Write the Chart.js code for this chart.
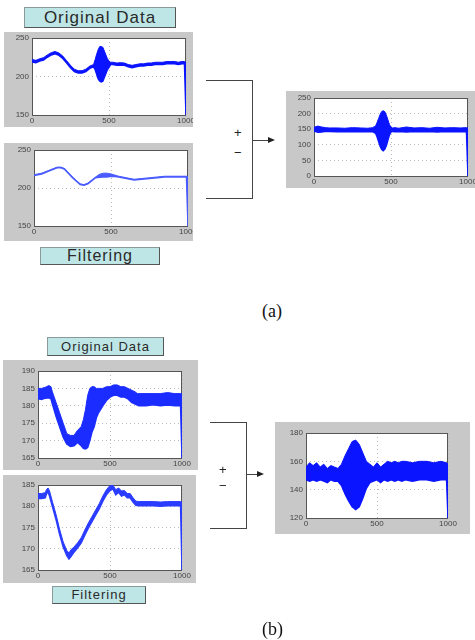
<!DOCTYPE html>
<html>
<head>
<meta charset="utf-8">
<script src="https://cdn.jsdelivr.net/npm/chart.js@4.4.1/dist/chart.umd.min.js"></script>
<style>
  body { margin: 0; background: #fff; width: 475px; height: 640px; position: relative; overflow: hidden; font-family: "Liberation Sans", Arial, sans-serif; }
  canvas { position: absolute; background: #c8c8c8; }
  .tag { position: absolute; background: #bfe6e6; border: 1px solid #8a9a9a; border-right-color: #555; border-bottom-color: #555; color: #2a2a2a; text-align: center; box-sizing: border-box; letter-spacing: 1px; }
  .ln { position: absolute; background: #444; }
  .sign { position: absolute; font-size: 13px; color: #222; line-height: 1; }
  .cap { position: absolute; font-family: "Liberation Serif", "Times New Roman", serif; font-size: 18px; color: #111; }
</style>
</head>
<body>

<div class="tag" style="left:24px;top:7px;width:152px;height:21px;font-size:17px;line-height:19px;">Original Data</div>
<canvas id="a1" width="189" height="95" style="left:4px;top:32px;"></canvas>
<canvas id="a2" width="189" height="98" style="left:4px;top:143px;"></canvas>
<div class="tag" style="left:40px;top:247px;width:120px;height:18px;font-size:16px;line-height:16px;">Filtering</div>
<canvas id="a3" width="189" height="97" style="left:286px;top:91px;"></canvas>

<div class="ln" style="left:206px;top:80px;width:47px;height:1px;"></div>
<div class="ln" style="left:252px;top:80px;width:1px;height:119px;"></div>
<div class="ln" style="left:206px;top:198px;width:47px;height:1px;"></div>
<div class="ln" style="left:252px;top:140px;width:17px;height:1px;"></div>
<div style="position:absolute;left:268px;top:137px;width:0;height:0;border-top:3.5px solid transparent;border-bottom:3.5px solid transparent;border-left:7px solid #222;"></div>
<div class="sign" style="left:234px;top:126px;">+</div>
<div class="sign" style="left:234px;top:146px;">&minus;</div>
<div class="cap" style="left:262px;top:301px;">(a)</div>

<div class="tag" style="left:47px;top:337px;width:117px;height:19px;font-size:13px;line-height:17px;">Original Data</div>
<canvas id="b1" width="195" height="110" style="left:3px;top:360px;"></canvas>
<canvas id="b2" width="193" height="108" style="left:3px;top:475px;"></canvas>
<div class="tag" style="left:52px;top:586px;width:94px;height:18px;font-size:13px;line-height:16px;">Filtering</div>
<canvas id="b3" width="195" height="112" style="left:275px;top:422px;"></canvas>

<div class="ln" style="left:210px;top:422px;width:37px;height:1px;"></div>
<div class="ln" style="left:246px;top:422px;width:1px;height:107px;"></div>
<div class="ln" style="left:210px;top:528px;width:37px;height:1px;"></div>
<div class="ln" style="left:246px;top:474px;width:12px;height:1px;"></div>
<div style="position:absolute;left:257px;top:471px;width:0;height:0;border-top:3.5px solid transparent;border-bottom:3.5px solid transparent;border-left:7px solid #222;"></div>
<div class="sign" style="left:219px;top:463px;">+</div>
<div class="sign" style="left:219px;top:479px;">&minus;</div>
<div class="cap" style="left:262px;top:619px;">(b)</div>

<script>
// (a) original data: upper / lower edge of the blue trace
const a1X  = [0,25,50,75,100,125,150,175,200,225,250,275,300,325,350,375,400,410,420,430,440,450,460,470,480,490,500,510,525,550,575,600,625,650,675,700,725,750,775,800,825,850,875,900,925,950,975,990,1000];
const a1Hi = [222,221,223,224.5,228,231,232.5,230.5,226.5,220.5,214.5,209.5,207.5,207.5,209.5,213.5,215.5,222,229,235,239,239,238,233,228,223,220,218.5,218.5,217.5,218,217.5,215.5,214.5,215.5,216.5,216.5,217.5,217.5,218.5,218.5,218.5,219.5,219.5,219.5,218.5,219.5,219.5,218];
const a1Lo = [219,218,220,221.5,225,228,229.5,227.5,223.5,217.5,211.5,206.5,204.5,204.5,206.5,210.5,212.5,209,203,197,194,193,194,199,204,209,212,215.5,215.5,214.5,215,214.5,212.5,211.5,212.5,213.5,213.5,214.5,214.5,215.5,215.5,215.5,216.5,216.5,216.5,215.5,216.5,216.5,150];

// (a) filtering
const a2X  = [0,50,100,150,175,200,250,300,325,350,400,425,450,475,500,525,550,600,650,700,750,800,850,900,950,990,1000];
const a2Hi = [217.5,219.5,223.5,227.5,227.5,225.5,214.5,205.5,204.5,206.5,214.5,218,219.5,219.5,218.5,217,215.5,213.5,211.5,212.5,213.5,214.5,215.5,215.5,215.5,215.5,215];
const a2Lo = [216.5,218.5,222.5,226.5,226.5,224.5,213.5,204.5,203.5,205.5,213.5,214,214.5,214.5,215.5,215,214.5,212.5,210.5,211.5,212.5,213.5,214.5,214.5,214.5,214.5,150];

// (a) difference
const a3X  = [0,25,50,75,100,150,200,250,300,350,380,400,410,420,430,440,450,460,470,480,490,500,510,525,550,600,650,700,750,800,850,900,950,990,1000];
const a3Hi = [156,160,157,155,154,154,153,155,154,153,155,160,172,185,198,207,209,206,195,180,165,156,154,155,153,157,154,155,153,156,154,155,154,155,154];
const a3Lo = [144,140,141,143,143,142,143,142,143,142,142,137,125,110,95,85,81,86,98,115,132,141,143,142,143,141,143,142,143,141,143,142,143,142,0];

// (b) original data
const b1X  = [0,25,50,75,90,100,125,150,175,200,225,250,275,300,315,330,345,360,375,390,405,420,450,475,500,525,550,575,600,625,650,675,690,700,750,800,850,900,950,990,1000];
const b1Hi = [185,185,185.3,185.8,185.5,184,181,178,175,172,171.5,171.5,173,174,176,179,183,185,185.5,185.5,185,185,185,185.5,185.5,186,186,185.5,185.5,185,184.5,184,183.5,183.5,183.5,183.5,183.5,183.8,183.5,183.5,183.5];
const b1Lo = [182,181.8,182.2,182.3,182,180.5,177,174,171,169,168.3,168.5,169.5,168.5,167.8,167.6,168,170,172.5,174,176.5,178,180,181.5,182.5,183,183,182.5,182.5,182,181,180.5,180.2,180,180,180.3,180,180.2,180,180,165];

// (b) filtering
const b2X  = [0,25,50,60,70,80,100,125,150,175,200,215,230,250,275,300,325,350,375,400,425,450,475,500,520,540,560,580,600,620,640,660,680,700,750,800,850,900,950,990,1000];
const b2Hi = [183,183,183.2,184,184.3,183.6,181.1,178.1,174.6,171.6,169.6,169,169.8,170.4,171.4,172.6,174.4,176.1,177.6,179.1,180.6,182.4,183.9,184.9,185,183.9,184.3,183.6,183.7,183,183,182,181.2,181.1,181.1,181.1,181,181.1,181.1,181.1,181];
const b2Lo = [181.8,181.8,182,183,183.3,182.4,179.9,176.9,173.4,170.4,168.4,167.6,168.2,169.2,170.2,171.4,173.2,174.9,176.4,177.9,179.4,181.2,182.7,183.7,184.1,182.7,183.3,182.4,182.7,182,182,181,180.2,180.1,180.1,180.1,180,180.1,180.1,180.1,165];

// (b) difference
const b3X  = [0,25,50,75,100,125,150,175,200,225,250,275,300,325,350,375,400,425,450,475,500,525,550,575,600,625,650,675,700,750,800,850,900,950,990,1000];
const b3Hi = [156,159,157,159,156,158,155,157,156,155,158,164,169,174,175,172,166,160,158,156,159,156,158,160,159,160,159,160,160,159,160,160,159,160,159,158];
const b3Lo = [147,146,147,146,147,146,145,147,146,146,143,137,132,128,126,128,134,141,145,146,147,145,147,146,147,146,147,146,147,146,147,147,146,147,147,120];

const xTicks = [0, 500, 1000];

// white plot box + dark frame like the matlab axes
const axesBox = {
  id: "axesBox",
  beforeDraw: (chart) => {
    const a = chart.chartArea;
    const ctx = chart.ctx;
    ctx.save();
    ctx.fillStyle = "#fff";
    ctx.fillRect(a.left, a.top, a.right - a.left, a.bottom - a.top);
    ctx.restore();
  },
  beforeDatasetsDraw: (chart) => {
    const a = chart.chartArea;
    const ctx = chart.ctx;
    ctx.save();
    ctx.strokeStyle = "#555";
    ctx.lineWidth = 1;
    ctx.strokeRect(a.left + 0.5, a.top + 0.5, a.right - a.left - 1, a.bottom - a.top);
    ctx.restore();
  }
};

const tickFont = { family: "Liberation Sans", size: 8 };

const drawPanel = (id, xs, hi, lo, yMin, yMax, yStep, pad, color) => {
  new Chart(document.getElementById(id), {
    type: "line",
    data: {
      datasets: [
        { data: xs.map((x, i) => ({ x: x, y: hi[i] })), borderColor: color, borderWidth: 1, pointRadius: 0, fill: false },
        { data: xs.map((x, i) => ({ x: x, y: lo[i] })), borderColor: color, borderWidth: 1.5, pointRadius: 0, fill: "-1", backgroundColor: color }
      ]
    },
    options: {
      responsive: false,
      animation: false,
      events: [],
      plugins: { legend: { display: false }, tooltip: { enabled: false } },
      layout: { padding: { top: pad.top, right: pad.right, left: 0, bottom: 0 } },
      scales: {
        x: {
          type: "linear", min: 0, max: 1000,
          afterBuildTicks: (s) => { s.ticks = xTicks.map(v => ({ value: v })); },
          ticks: { font: tickFont, color: "#444", padding: 1, maxRotation: 0, callback: (v) => String(v) },
          grid: { color: "#bbb", drawTicks: false, tickLength: 0 },
          border: { display: false, dash: [1, 3] },
          afterFit: (s) => { s.height = pad.bottom; s.paddingLeft = 0; s.paddingRight = 0; }
        },
        y: {
          min: yMin, max: yMax,
          ticks: { stepSize: yStep, font: tickFont, color: "#444", padding: 3, callback: (v) => String(v) },
          grid: { color: "#bbb", drawTicks: false, tickLength: 0 },
          border: { display: false, dash: [1, 3] },
          afterFit: (s) => { s.width = pad.left; s.paddingTop = 0; s.paddingBottom = 0; }
        }
      }
    },
    plugins: [axesBox]
  });
};

drawPanel("a1", a1X, a1Hi, a1Lo, 150, 250, 50, { left: 28, top: 6, right: 7, bottom: 12 }, "#0a14ff");
drawPanel("a2", a2X, a2Hi, a2Lo, 150, 250, 50, { left: 30, top: 7, right: 5, bottom: 15 }, "#4a5cff");
drawPanel("a3", a3X, a3Hi, a3Lo, 0, 250, 50, { left: 28, top: 7, right: 7, bottom: 12 }, "#0a14ff");
drawPanel("b1", b1X, b1Hi, b1Lo, 165, 190, 5, { left: 35, top: 11, right: 16, bottom: 12 }, "#1a2cff");
drawPanel("b2", b2X, b2Hi, b2Lo, 165, 185, 5, { left: 35, top: 10, right: 14, bottom: 13 }, "#2a3cff");
drawPanel("b3", b3X, b3Hi, b3Lo, 120, 180, 20, { left: 31, top: 11, right: 22, bottom: 16 }, "#0a14ff");
</script>
</body>
</html>
